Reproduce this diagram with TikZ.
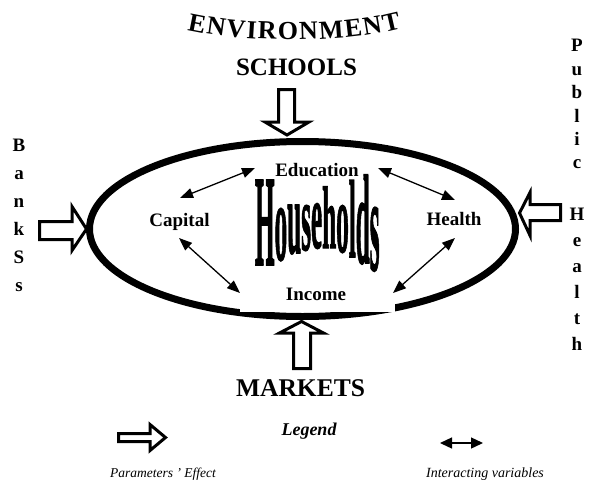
\documentclass[tikz,border=0pt]{standalone}
\usepackage{fontspec}
\setmainfont{Liberation Serif}
\newfontfamily\hhfont[FakeBold=1.5]{Liberation Serif}
\usetikzlibrary{arrows.meta}
\begin{document}
\begin{tikzpicture}[x=1pt,y=-1pt,
  blockarrow/.style={draw=black, line width=3pt, fill=white, line join=miter},
  inter/.style={{Triangle[length=13pt,width=10pt]}-{Triangle[length=13pt,width=10pt]}, line width=1.3pt},
  lbl/.style={font=\fontsize{19}{19}\selectfont\bfseries, inner sep=0pt, anchor=base},
  big/.style={font=\fontsize{25}{25}\selectfont\bfseries, inner sep=0pt, anchor=base},
  envl/.style={font=\fontsize{26}{26}\selectfont\bfseries, inner sep=0pt, anchor=base},
  vert/.style={font=\fontsize{19}{19}\selectfont\bfseries, inner sep=0pt, anchor=base},
  hhl/.style={font=\fontsize{26}{26}\hhfont\bfseries, inner sep=0pt, anchor=base},
  note/.style={font=\fontsize{13.5}{13.5}\selectfont\itshape, inner sep=0pt, anchor=base},
]
\useasboundingbox[fill=white] (0,0) rectangle (593,479);

% main ellipse
\draw[line width=7pt] (302.5,229) ellipse [x radius=213pt, y radius=87.5pt];

% Income box covering part of the stroke
\node[fill=white, minimum width=155pt, minimum height=32pt, inner sep=0pt] (incbox) at (317.5,296) {};
\node[lbl] (income) at (316,300) {Income};

% inner labels
\node[lbl] (education) at (317,176.5) {Education};
\node[lbl] (capital) at (179.5,226) {Capital};
\node[lbl] (health) at (454,225) {Health};

% Households (envelope-distorted word)
\foreach \ch/\xx/\yy/\sc [count=\i] in {H/264.8/265/4.98, o/280.9/260/4.23, u/294.2/253/4.03, s/306.1/250/3.66, e/316.6/248/3.66, h/329.2/248/3.41, o/342.5/252/3.82, l/352.3/257/4.26, d/362.8/263/4.89, s/374.7/270/5.12}
  \node[hhl] (hl\i) at (\xx,\yy) {\scalebox{0.97}[\sc]{\ch}};

% interaction arrows
\coordinate (ce1) at (180,198);
\coordinate (ce2) at (255,168);
\coordinate (ci1) at (179,238);
\coordinate (ci2) at (240,293);
\coordinate (eh1) at (378,168);
\coordinate (eh2) at (455,200);
\coordinate (hi1) at (455,238);
\coordinate (hi2) at (393,293);
\draw[inter] (ce1) -- (ce2);
\draw[inter] (ci1) -- (ci2);
\draw[inter] (eh1) -- (eh2);
\draw[inter] (hi1) -- (hi2);

% block arrows (parameters' effect)
\draw[blockarrow] (278.5,89.5) -- (294.5,89.5) -- (294.5,122) -- (309,122) -- (287,135) -- (265,122) -- (278.5,122) -- cycle;
\draw[blockarrow] (293.5,368.5) -- (310.5,368.5) -- (310.5,333) -- (323.5,333) -- (301.5,321.5) -- (279.5,333) -- (293.5,333) -- cycle;
\draw[blockarrow] (39.5,221.5) -- (72,221.5) -- (72,206.5) -- (86.5,229) -- (72,250.5) -- (72,239.5) -- (39.5,239.5) -- cycle;
\draw[blockarrow] (560.5,204.5) -- (530,204.5) -- (530,192.5) -- (519.5,213) -- (530,235.5) -- (530,220.5) -- (560.5,220.5) -- cycle;

% ENVIRONMENT on an arc
\foreach \ch/\xx/\yy/\rr [count=\i] in {E/195.7/32/-11, N/215.1/35/-8, V/235.3/37.5/-5.5, I/251.2/38.5/-3.5, R/267/39/-2, O/287.9/39.5/0, N/308.8/39.5/2, M/331.9/38.5/4, E/354.2/36.5/6.5, N/373.6/34/9.5, T/393.1/30.5/13}
  \node[envl, rotate=\rr] (env\i) at (\xx,\yy) {\ch};
\node[big] (schools) at (296.5,75) {SCHOOLS};
\node[big, font=\fontsize{25.5}{25.5}\selectfont\bfseries] (markets) at (300.5,396) {MARKETS};

% vertical labels
\foreach \ch/\yy [count=\i] in {B/151,a/179,n/207,k/235,S/263,s/291}
  \node[vert] (bank\i) at (19,\yy) {\ch};
\foreach \ch/\yy [count=\i] in {P/51,u/75,b/98,l/122,i/145,c/168,H/220,e/246,a/272,l/298,t/324,h/350}
  \node[vert] (ph\i) at (577,\yy) {\ch};

% legend
\node[inner sep=0pt, anchor=base, font=\fontsize{18}{18}\selectfont\bfseries\itshape] (legend) at (309,435) {Legend};
\draw[blockarrow] (118.5,433.5) -- (150,433.5) -- (150,424.5) -- (165.5,437.5) -- (150,450.5) -- (150,441.5) -- (118.5,441.5) -- cycle;
\coordinate (la) at (440,443);
\coordinate (lb) at (483,443);
\draw[inter, {Triangle[length=12pt,width=11pt]}-{Triangle[length=12pt,width=11pt]}] (la) -- (lb);
\node[note] (peff) at (163,477) {Parameters ' Effect};
\node[note, font=\fontsize{14}{14}\selectfont\itshape] (ivar) at (485,477) {Interacting variables};
\end{tikzpicture}
\end{document}
